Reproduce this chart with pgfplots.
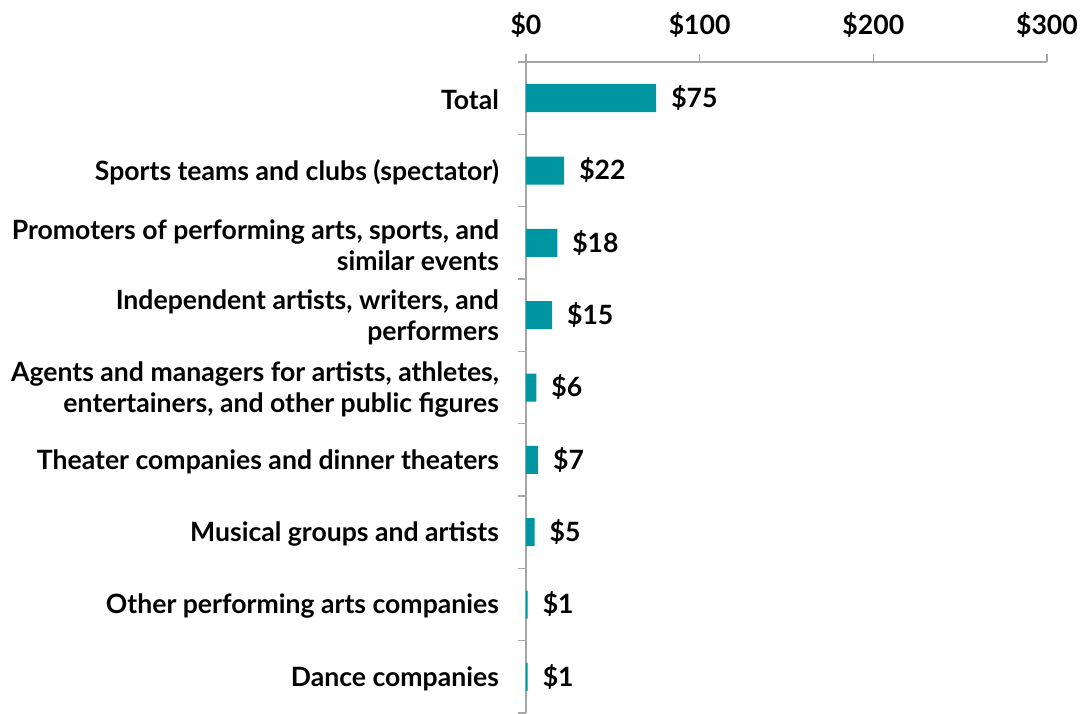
\documentclass[border=0pt]{standalone}
\usepackage{fontspec}
\setmainfont{Lato}
\usepackage{pgfplots}
\pgfplotsset{compat=1.18}
\definecolor{barTeal}{RGB}{0,150,161}
\definecolor{axisGray}{RGB}{166,166,166}

\begin{document}
\begin{tikzpicture}
\useasboundingbox (-263pt,0pt) rectangle (277.5pt,356.5pt);
\begin{axis}[
    at={(0pt,0pt)}, anchor=south west,
    scale only axis,
    width=260.5pt, height=325.5pt,
    xbar,
    bar width=14pt,
    xmin=0, xmax=300,
    ymin=-0.5, ymax=8.5,
    axis x line*=top,
    axis y line*=left,
    axis line style={axisGray, line width=0.8pt},
    tick style={axisGray, line width=0.8pt},
    tick align=outside,
    major tick length=4pt,
    minor tick length=4pt,
    xtick={0,100,200,300},
    xticklabel={\$\pgfmathprintnumber[assume math mode=true]{\tick}},
    ytick={0,...,8},
    minor ytick={-0.5,0.5,...,8.5},
    every major y tick/.style={draw=none},
    yticklabels={
        Dance companies,
        Other performing arts companies,
        Musical groups and artists,
        Theater companies and dinner theaters,
        {Agents and managers for artists, athletes,\\entertainers, and other public figures},
        {Independent artists, writers, and\\performers},
        {Promoters of performing arts, sports, and\\similar events},
        Sports teams and clubs (spectator),
        Total
    },
    yticklabel style={align=right, xshift=-6pt, yshift=-1pt,
        font=\fontsize{13.3}{15.5}\selectfont\bfseries},
    xticklabel style={yshift=4.5pt,
        font=\fontsize{13.3}{15.5}\selectfont\bfseries},
    nodes near coords={\$\pgfmathprintnumber[assume math mode=true]{\pgfplotspointmeta}},
    nodes near coords style={anchor=west, xshift=4pt,
        font=\fontsize{13.3}{15.5}\selectfont\bfseries},
    clip=false,
]
    \addplot[fill=barTeal, draw=none] coordinates {
        (1,0) (1,1) (5,2) (7,3) (6,4) (15,5) (18,6) (22,7) (75,8)
    };
\end{axis}
\end{tikzpicture}
\end{document}
